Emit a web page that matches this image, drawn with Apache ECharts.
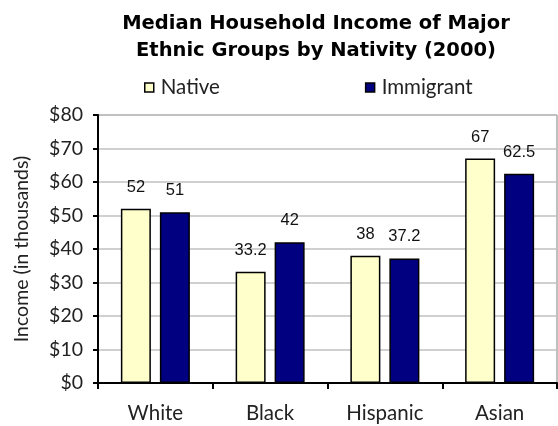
<!DOCTYPE html>
<html><head><meta charset="utf-8">
<script src="https://cdn.jsdelivr.net/npm/echarts@6/dist/echarts.min.js"></script>
<style>html,body{margin:0;padding:0;background:#fff}#c{width:558px;height:426px}</style>
</head><body><div id="c"></div>
<script>
var categories = ["White", "Black", "Hispanic", "Asian"];
var nativeValues = [52, 33.2, 38, 67];
var immigrantValues = [51, 42, 37.2, 62.5];
var seriesNames = ["Native", "Immigrant"];
var titleText = "Median Household Income of Major\nEthnic Groups by Nativity (2000)";
var yAxisName = "Income (in thousands)";

var FONT = "Lato";
var chart = echarts.init(document.getElementById('c'));
chart.setOption({
  animation: false,
  backgroundColor: '#fff',
  title: {
    text: titleText, left: 311, top: 5, textAlign: 'center',
    textStyle: { fontFamily: 'DejaVu Sans', fontWeight: 'bold', fontSize: 19.5, lineHeight: 27, color: '#000' }
  },
  legend: {
    data: seriesNames, left: 139, top: 72, itemWidth: 9, itemHeight: 9, itemGap: 145, icon: 'rect',
    itemStyle: { borderColor: '#000', borderWidth: 1.5 },
    textStyle: { fontFamily: FONT, fontSize: 20.5, color: '#222', padding: [0, 0, 0, 2] }
  },
  grid: { left: 98, right: 1, top: 115, bottom: 43, show: true, borderColor: '#808080', borderWidth: 1 },
  xAxis: {
    type: 'category', data: categories,
    axisLine: { lineStyle: { color: '#000', width: 2 } },
    axisTick: { show: true, length: 6, lineStyle: { color: '#000', width: 2 } },
    axisLabel: { margin: 20, fontFamily: FONT, fontSize: 20.5, color: '#222' }
  },
  yAxis: {
    type: 'value', min: 0, max: 80, interval: 10,
    name: yAxisName, nameLocation: 'middle', nameGap: 66,
    nameTextStyle: { fontFamily: FONT, fontSize: 19.5, color: '#222' },
    axisLine: { show: true, lineStyle: { color: '#000', width: 2 } },
    axisTick: { show: true, length: 5, lineStyle: { color: '#000', width: 2 } },
    axisLabel: { margin: 15, fontFamily: FONT, fontSize: 19.5, color: '#222', formatter: function (v) { return '$' + v; } },
    splitLine: { lineStyle: { color: '#c0c0c0', width: 1.5 } }
  },
  series: [
    { name: seriesNames[0], type: 'bar', data: nativeValues, barWidth: 30, barGap: '30%',
      itemStyle: { color: '#FFFFCC', borderColor: '#000', borderWidth: 1.5 },
      label: { show: true, position: 'top', distance: 13, fontFamily: 'Liberation Sans', fontSize: 16.5, color: '#111' } },
    { name: seriesNames[1], type: 'bar', data: immigrantValues, barWidth: 30, barGap: '30%',
      itemStyle: { color: '#000080', borderColor: '#000', borderWidth: 1.5 },
      label: { show: true, position: 'top', distance: 13, fontFamily: 'Liberation Sans', fontSize: 16.5, color: '#111' } }
  ]
});
</script></body></html>
